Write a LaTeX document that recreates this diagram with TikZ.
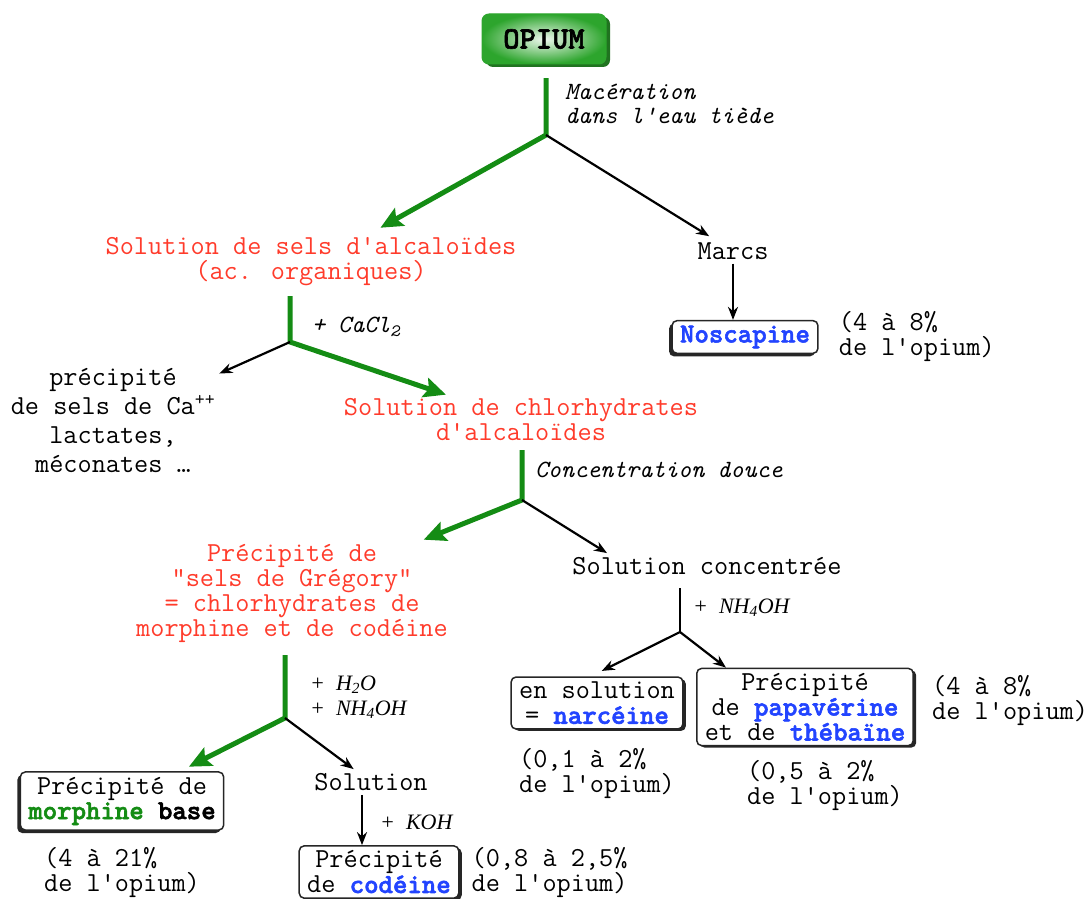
\documentclass[tikz,border=0pt]{standalone}
\usepackage{fontspec}
\newfontfamily\serifit{Liberation Serif}
\newfontfamily\boldmono{lmmonolt10-bold.otf}[FakeBold=2]
\usepackage{tikz}
\usetikzlibrary{shapes,arrows.meta,positioning,shadows}
\definecolor{redcolor}{RGB}{255, 59, 43}
\definecolor{greencolor}{RGB}{20, 140, 20}
\definecolor{bluecolor}{RGB}{34, 68, 255}
\definecolor{opiumcolor}{RGB}{45, 165, 45}

\newcommand{\gras}[1]{{\boldmono #1}}
\newcommand{\bleu}[1]{\textcolor{bluecolor}{\gras{#1}}}

\begin{document}
\begin{tikzpicture}[x=1pt, y=-1pt]
    % Define styles
    \tikzstyle{txt} = [font=\ttfamily\fontsize{27.5}{25}\selectfont, align=center, inner sep=4pt]
    \tikzstyle{redtxt} = [txt, text=redcolor]
    \tikzstyle{pct} = [txt, align=left, inner sep=0pt]
    \tikzstyle{reagent} = [font=\ttfamily\fontsize{24.8}{23.5}\selectfont\itshape, align=left, anchor=west, inner sep=0pt]
    \tikzstyle{reagentserif} = [font=\serifit\fontsize{22}{25}\selectfont\itshape, align=left, anchor=west, inner sep=0pt]
    \tikzstyle{result} = [txt, rectangle, draw=black!85, line width=1.5pt, rounded corners=5pt, fill=white, inner xsep=8pt, inner ysep=5pt]
    \tikzstyle{shadowleft} = [drop shadow={shadow xshift=-3pt, shadow yshift=-3pt, fill=black!85, opacity=1}]
    \tikzstyle{shadowright} = [drop shadow={shadow xshift=3pt, shadow yshift=-2pt, fill=black!85, opacity=1}]
    \tikzstyle{opium} = [rectangle, rounded corners=7pt, minimum width=124pt, minimum height=50pt, inner color=white!92!opiumcolor, outer color=opiumcolor, draw=opiumcolor, line width=1pt, font=\boldmono\fontsize{31}{31}\selectfont, drop shadow={shadow xshift=4pt, shadow yshift=-3pt, fill=opiumcolor!70!black, opacity=1}]
    \tikzstyle{greenarrow} = [greencolor, line width=5pt, -{Stealth[length=22pt, width=20pt, inset=4pt]}]
    \tikzstyle{blackarrow} = [black, line width=2.2pt, -{Stealth[length=13pt, width=10pt]}]
    \tikzstyle{blackstem} = [black, line width=1.6pt]

    \useasboundingbox (0,0) rectangle (1092,899);

    % Starting material
    \node[opium] (opium) at (544,39) {OPIUM};

    % First extraction
    \node[redtxt] (solsels) at (311,262) {Solution de sels d'alcaloïdes\\(ac. organiques)};
    \node[txt] (marcs) at (733,251) {Marcs};
    \node[result, shadowleft] (noscapine) at (745,337) {\bleu{Noscapine}};
    \node[pct, right=20pt of noscapine] (noscpct) {(4 à 8\%\\de l'opium)};

    % Calcium chloride step
    \node[txt, font=\ttfamily\fontsize{27.5}{29}\selectfont] (precip) at (113,421) {précipité\\de sels de Ca\textsuperscript{++}\\lactates,\\méconates …};
    \node[redtxt] (chlor) at (521,420) {Solution de chlorhydrates\\d'alcaloïdes};

    % Concentration step
    \node[redtxt] (gregory) at (292,593) {Précipité de\\"sels de Grégory"\\= chlorhydrates de\\morphine et de codéine};
    \node[txt] (solconc) at (707,566) {Solution concentrée};
    \node[result, shadowright] (narceine) at (597,703) {en solution\\= \bleu{narcéine}};
    \node[result, shadowright] (papav) at (805,707) {Précipité\\de \bleu{papavérine}\\et de \bleu{thébaïne}};
    \node[pct, below=18pt of narceine] (narcpct) {(0,1 à 2\%\\de l'opium)};
    \node[pct, anchor=north west] (papavpct) at ([xshift=18pt, yshift=-8pt]papav.north east) {(4 à 8\%\\de l'opium)};
    \node[pct, below=14pt of papav, xshift=20pt] (papavpct2) {(0,5 à 2\%\\de l'opium)};

    % Gregory salts
    \node[result, shadowleft] (morph) at (122,801) {Précipité de\\\textcolor{greencolor}{\gras{morphine}} \gras{base}};
    \node[pct, below=16pt of morph] (morphpct) {(4 à 21\%\\de l'opium)};
    \node[txt] (solution) at (371,782) {Solution};
    \node[result, shadowright] (codeine) at (379,872) {Précipité\\de \bleu{codéine}};
    \node[pct, right=12pt of codeine] (codpct) {(0,8 à 2,5\%\\de l'opium)};

    % Reagents
    \node[reagent] (macer) at (565,104) {Macération\\dans l'eau tiède};
    \node[reagent] (cacl) at (312,327) {+ CaCl\textsubscript{2}};
    \node[reagent] (concdouce) at (535,470) {Concentration douce};
    \node[reagentserif] (nhoh) at (693,608) {+ \ NH\textsubscript{4}OH};
    \node[reagentserif] (hho) at (310,697) {+ \ H\textsubscript{2}O\\+ \ NH\textsubscript{4}OH};
    \node[reagentserif] (koh) at (380,822) {+ \ KOH};

    % Branch points
    \coordinate (s1) at (546,78);
    \coordinate (j1) at (546,135);
    \coordinate (s2) at (290,296);
    \coordinate (j2) at (290,342);
    \coordinate (s3) at (522,450);
    \coordinate (j3) at (522,500);
    \coordinate (s4) at (680,588);
    \coordinate (j4) at (680,632);
    \coordinate (s5) at (285,655);
    \coordinate (j5) at (285,718);

    % Arrows
    \draw[greenarrow, shorten >=12pt] (s1) -- (j1) -- ([xshift=59pt]solsels.north);
    \draw[blackarrow, shorten >=4pt] (j1) -- (marcs);
    \draw[blackarrow] (marcs) -- (marcs |- noscapine.north);

    \draw[greenarrow] (s2) -- (j2) -- (chlor);
    \draw[blackarrow] (j2) -- (precip);

    \draw[greenarrow] (s3) -- (j3) -- (gregory);
    \draw[blackarrow] (j3) -- ([xshift=-100pt]solconc.north);

    \draw[blackstem] (s4) -- (j4);
    \draw[blackarrow, shorten >=12pt] (j4) -- ([xshift=-6pt]narceine.north);
    \draw[blackarrow] (j4) -- ([xshift=30pt]papav.north west);

    \draw[greenarrow, shorten >=10pt] (s5) -- (j5) -- ([xshift=58pt]morph.north);
    \draw[blackarrow] (j5) -- (solution);
    \draw[blackarrow] ([xshift=-9pt]solution.south) -- ([xshift=-9pt]solution.south |- codeine.north);
\end{tikzpicture}
\end{document}
